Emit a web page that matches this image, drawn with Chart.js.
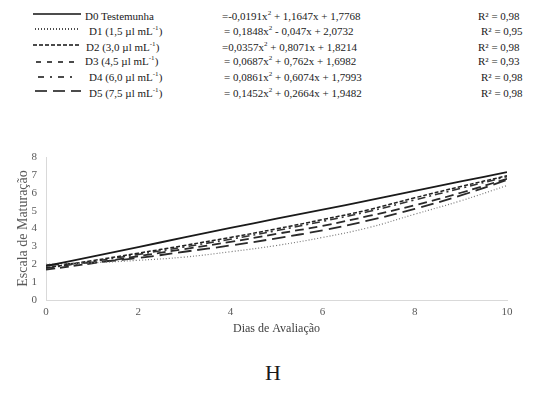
<!DOCTYPE html>
<html>
<head>
<meta charset="utf-8">
<script src="https://cdn.jsdelivr.net/npm/chart.js@4/dist/chart.umd.min.js"></script>
<style>
    body { margin: 0; width: 560px; height: 394px; background: #fff; font-family: "Liberation Serif", "Times New Roman", serif; color: #1a1a1a; position: relative; overflow: hidden; }
    .row { position: absolute; left: 0; width: 560px; height: 14px; font-size: 11px; line-height: 14px; white-space: nowrap; }
    .row > span { position: absolute; top: 0; }
    .row .item { display: flex; align-items: center; height: 14px; }
    .row .item svg { flex: none; }
    sup { font-size: 7px; vertical-align: top; line-height: 8px; }
    #wrap { position: absolute; left: 0; top: 140px; width: 560px; height: 196px; }
    #letra { position: absolute; left: 0; width: 546px; top: 360px; text-align: center; font-size: 22px; line-height: 26px; }
</style>
</head>
<body>
<div id="legenda"></div>
<div id="wrap"><canvas id="maturacao"></canvas></div>
<div id="letra">H</div>

<script>
// dias de avaliação e escala de maturação por dose
const dias = [0, 1, 2, 3, 4, 5, 6, 7, 8, 9, 10];
const d0 = [1.9, 2.42, 2.96, 3.5, 4.03, 4.55, 5.05, 5.58, 6.1, 6.63, 7.15];
const d1 = [2.0, 2.08, 2.22, 2.4, 2.7, 3.05, 3.5, 4.05, 4.8, 5.55, 6.4];
const d2 = [1.8, 2.2, 2.62, 3.05, 3.5, 3.98, 4.5, 5.05, 5.72, 6.35, 6.95];
const d3 = [1.7, 2.05, 2.45, 2.85, 3.25, 3.7, 4.15, 4.7, 5.3, 6.0, 6.78];
const d4 = [1.78, 2.15, 2.55, 2.97, 3.4, 3.88, 4.4, 4.95, 5.6, 6.25, 6.9];
const d5 = [1.95, 2.1, 2.35, 2.7, 3.05, 3.45, 3.9, 4.45, 5.1, 5.85, 6.72];

const nomes = ['D0 Testemunha', 'D1 (1,5 µl mL<sup>-1</sup>)', 'D2 (3,0 µl mL<sup>-1</sup>)',
    'D3 (4,5 µl mL<sup>-1</sup>)', 'D4 (6,0 µl mL<sup>-1</sup>)', 'D5 (7,5 µl mL<sup>-1</sup>)'];
const equacoes = ['=-0,0191x<sup>2</sup> + 1,1647x + 1,7768', '= 0,1848x<sup>2</sup> - 0,047x + 2,0732',
    '=0,0357x<sup>2</sup> + 0,8071x + 1,8214', '= 0,0687x<sup>2</sup> + 0,762x + 1,6982',
    '= 0,0861x<sup>2</sup> + 0,6074x + 1,7993', '= 0,1452x<sup>2</sup> + 0,2664x + 1,9482'];
const r2 = ['0,98', '0,95', '0,98', '0,93', '0,98', '0,98'];

const series = [d0, d1, d2, d3, d4, d5];
const tracos = [[], [1, 2], [4, 2], [9, 5], [8, 4, 2, 4], [13, 6]];
const larguras = [1.8, 1.2, 1.5, 1.8, 1.6, 1.8];
const cores = ['#1a1a1a', '#777', '#222', '#2a2a2a', '#333', '#2a2a2a'];

// cada linha da legenda: [y, início do traço, largura do traço, espaço até o texto, equação, R²]
const legPos = [
    [16, 33, 48, 4, 222, 478],
    [31, 35, 43, 11, 224, 481],
    [47, 33, 48, 5, 222, 478],
    [61, 36, 44, 5, 224, 478],
    [77, 38, 38, 13, 224, 481],
    [93, 35, 46, 8, 224, 481]
];
const legDash = ['', '1 2', '4 2', '5 6', '6 6 2 6', '12 6'];
const legTracoDy = [0, 0, 0, 3, 2, 0];

// legenda com as equações
const leg = document.getElementById('legenda');
nomes.forEach((n, i) => {
    const [y, x1, w, gap, xe, xr] = legPos[i];
    const dash = legDash[i] ? `stroke-dasharray="${legDash[i]}"` : '';
    const dy = 5 + legTracoDy[i];
    leg.innerHTML += `
        <div class="row" style="top:${y - 7}px">
            <span class="item" style="left:${x1}px"><svg width="${w}" height="14" style="margin-right:${gap}px"><line x1="0" y1="${dy}" x2="${w}" y2="${dy}" stroke="#111" stroke-width="1.5" ${dash}/></svg><span>${n}</span></span>
            <span style="left:${xe}px">${equacoes[i]}</span>
            <span style="left:${xr}px">R² = ${r2[i]}</span>
        </div>`;
});

const fonte = "'Liberation Serif', 'Times New Roman', serif";

new Chart(document.getElementById('maturacao'), {
    type: 'line',
    data: {
        datasets: series.map((s, i) => ({
            label: nomes[i],
            data: s.map((v, k) => ({ x: dias[k], y: v })),
            borderColor: cores[i],
            borderWidth: larguras[i],
            borderDash: tracos[i],
            pointRadius: 0,
            tension: 0.4,
            fill: false
        }))
    },
    options: {
        responsive: true,
        maintainAspectRatio: false,
        animation: false,
        layout: { padding: { top: 17, right: 53, left: 15, bottom: 0 } },
        plugins: { legend: { display: false }, tooltip: { enabled: false } },
        scales: {
            x: {
                type: 'linear', min: 0, max: 10,
                ticks: { stepSize: 2, color: '#595959', font: { family: fonte, size: 11 }, padding: 6 },
                grid: { display: false, drawTicks: false },
                border: { color: '#d9d9d9' },
                title: { display: true, text: 'Dias de Avaliação', color: '#404040', font: { family: fonte, size: 12 }, padding: 0 },
                afterFit: s => { s.height = 36; }
            },
            y: {
                min: 0, max: 8,
                ticks: { stepSize: 1, color: '#595959', font: { family: fonte, size: 11 }, padding: 9 },
                grid: { display: false, drawTicks: false },
                border: { color: '#d9d9d9' },
                title: { display: true, text: 'Escala de Maturação', color: '#595959', font: { family: fonte, size: 14 }, padding: 0 },
                afterFit: s => { s.width = 31; }
            }
        }
    }
});
</script>
</body>
</html>
